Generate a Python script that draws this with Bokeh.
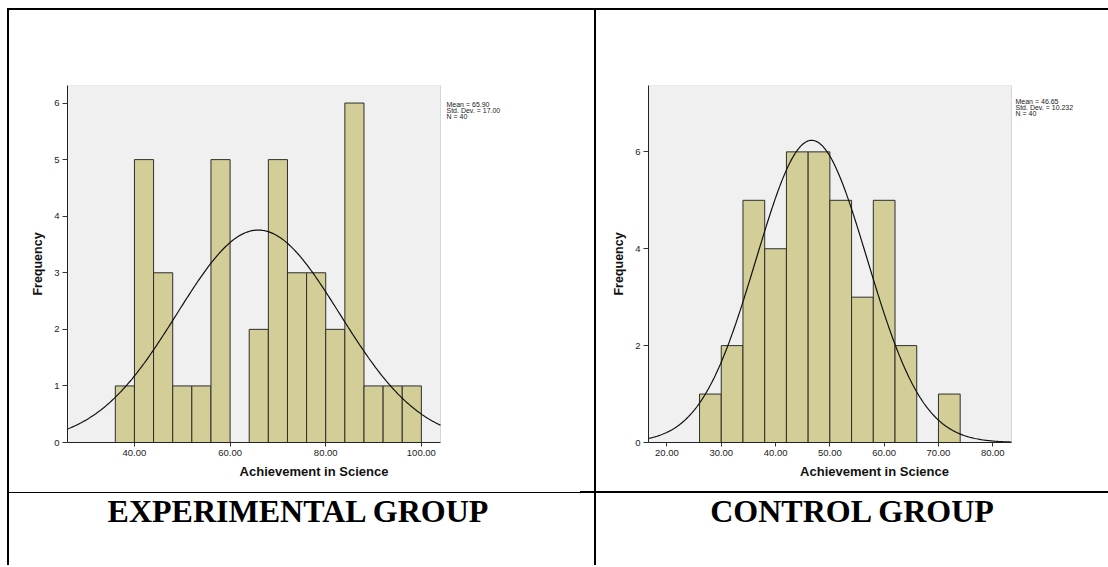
import numpy as np
from bokeh.plotting import figure
from bokeh.models import Div, Label, FixedTicker, NumeralTickFormatter, Range1d, BoxAnnotation
from bokeh.layouts import row, column
from bokeh.embed import file_html
from bokeh.resources import INLINE

# ---------------- data ----------------
exp_bin_start = [36, 40, 44, 48, 52, 56, 60, 64, 68, 72, 76, 80, 84, 88, 92, 96]
exp_counts = [1, 5, 3, 1, 1, 5, 0, 2, 5, 3, 3, 2, 6, 1, 1, 1]
ctl_bin_start = [26, 30, 34, 38, 42, 46, 50, 54, 58, 62, 66, 70]
ctl_counts = [1, 2, 5, 4, 6, 6, 5, 3, 5, 2, 0, 1]
bin_width = 4

exp_mean, exp_sd, exp_n = 65.90, 17.00, 40
ctl_mean, ctl_sd, ctl_n = 46.65, 10.232, 40
exp_stats_text = ["Mean = 65.90", "Std. Dev. = 17.00", "N = 40"]
ctl_stats_text = ["Mean = 46.65", "Std. Dev. = 10.232", "N = 40"]

exp_xrange = (26, 104)
exp_yrange = (0, 6.31)
ctl_xrange = (16.6, 83.45)
ctl_yrange = (0, 7.37)
exp_xticks = [40, 60, 80, 100]
exp_yticks = [0, 1, 2, 3, 4, 5, 6]
ctl_xticks = [20, 30, 40, 50, 60, 70, 80]
ctl_yticks = [0, 2, 4, 6]

x_label = "Achievement in Science"
y_label = "Frequency"
group_labels = ["EXPERIMENTAL GROUP", "CONTROL GROUP"]

SANS = "Liberation Sans"
SERIF = "Liberation Serif"


def make_hist(starts, counts, mean, sd, n, xr, yr, xticks, yticks, stats_text,
              width, height, borders, panel_w, legend_dx, legend_dy):
    bl, br, bt, bb = borders
    fw = width - bl - br
    fh = height - bt - bb
    # the frame is wider than the grey panel, leaving room for the statistics text
    x_end = xr[0] + (xr[1] - xr[0]) * fw / panel_w
    p = figure(width=width, height=height, output_backend="svg", toolbar_location=None,
               x_range=Range1d(xr[0], x_end), y_range=Range1d(*yr),
               min_border_left=bl, min_border_right=br, min_border_top=bt, min_border_bottom=bb)
    p.background_fill_color = "white"
    p.border_fill_color = "white"
    p.outline_line_color = None
    p.grid.visible = False

    p.add_layout(BoxAnnotation(left=xr[0], right=xr[1], bottom=yr[0], top=yr[1],
                               fill_color="#f0f0f0", fill_alpha=1.0,
                               line_color="#8a8a8a", line_width=1, level="underlay"))

    left = [s for s, c in zip(starts, counts) if c > 0]
    top = [c for c in counts if c > 0]
    right = [s + bin_width for s in left]
    p.quad(left=left, right=right, bottom=0, top=top,
           fill_color="#d3ce97", line_color="#2e2e2e", line_width=1)

    xs = np.linspace(xr[0], xr[1], 300)
    ys = n * bin_width / (sd * np.sqrt(2 * np.pi)) * np.exp(-0.5 * ((xs - mean) / sd) ** 2)
    p.line(xs, ys, line_color="#111111", line_width=1.2)

    for ax in (p.xaxis[0], p.yaxis[0]):
        ax.axis_line_color = "#222222"
        ax.major_tick_line_color = "#333333"
        ax.major_tick_in = 0
        ax.major_tick_out = 5
        ax.minor_tick_line_color = None
        ax.major_label_text_font = SANS
        ax.major_label_text_font_size = "9.5px"
        ax.major_label_text_color = "#222222"
        ax.axis_label_text_font = SANS
        ax.axis_label_text_font_style = "bold"
        ax.axis_label_text_color = "#111111"
        ax.major_label_standoff = 3
    p.xaxis.bounds = xr
    p.xaxis.ticker = FixedTicker(ticks=xticks)
    p.yaxis.ticker = FixedTicker(ticks=yticks)
    p.xaxis.formatter = NumeralTickFormatter(format="0.00")
    p.yaxis.formatter = NumeralTickFormatter(format="0")
    p.xaxis.major_tick_out = 4
    p.xaxis.axis_label = x_label
    p.yaxis.axis_label = y_label
    p.xaxis.axis_label_text_font_size = "13px"
    p.yaxis.axis_label_text_font_size = "12.5px"
    p.xaxis.axis_label_standoff = 5
    p.yaxis.axis_label_standoff = 6

    for i, t in enumerate(stats_text):
        p.add_layout(Label(x=panel_w + legend_dx, y=fh - legend_dy - i * 6, x_units="screen",
                           y_units="screen", text=t, text_font=SANS, text_font_size="7px",
                           text_color="#222222", text_baseline="middle", text_align="left"))
    return p


ROW_H = 481
p_exp = make_hist(exp_bin_start, exp_counts, exp_mean, exp_sd, exp_n, exp_xrange, exp_yrange,
                  exp_xticks, exp_yticks, exp_stats_text, 585, ROW_H, (58, 34, 72, 49), 373, 6, 22)
p_ctl = make_hist(ctl_bin_start, ctl_counts, ctl_mean, ctl_sd, ctl_n, ctl_xrange, ctl_yrange,
                  ctl_xticks, ctl_yticks, ctl_stats_text, 512, ROW_H, (52, 8, 75, 44), 363, 4, 21)


def blk(w, h):
    return Div(text="", width=w, height=h, margin=0, styles={"background-color": "black"})


def gap(w, h):
    return Div(text="", width=w, height=h, margin=0)


def label_div(t, w, h, pad_right):
    html = ('<div style="width:%dpx;text-align:center;font-family:\'%s\';font-weight:bold;'
            'font-size:32px;line-height:normal;color:black;margin:0;padding:0 %dpx 0 0;'
            'box-sizing:border-box;">%s</div>' % (w, SERIF, pad_right, t))
    return Div(text=html, width=w, height=h, margin=0)


LBL_H = 72
thin = Div(text="", width=571, height=2, margin=0,
           styles={"background": "linear-gradient(to bottom, white 50%, black 50%)"})
layout = column(
    gap(1108, 8),
    row(gap(7, 2), blk(1101, 2), spacing=0),
    row(gap(7, ROW_H), blk(2, ROW_H), p_exp, blk(2, ROW_H), p_ctl, spacing=0),
    row(gap(7, 2), blk(2, 2), thin, blk(528, 2), spacing=0),
    row(gap(7, LBL_H), blk(2, LBL_H), label_div(group_labels[0], 585, LBL_H, 7),
        blk(2, LBL_H), label_div(group_labels[1], 512, LBL_H, 0), spacing=0),
    spacing=0,
)

open("out.html", "w").write(file_html(layout, INLINE))
